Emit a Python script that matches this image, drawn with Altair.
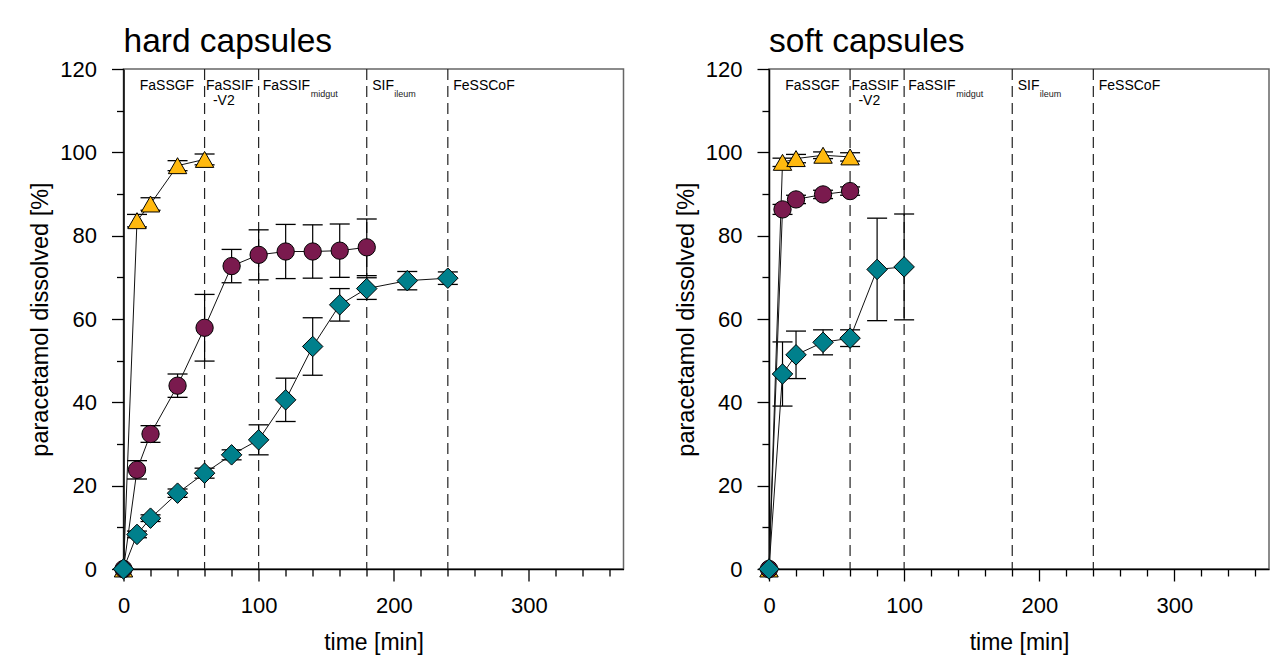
import altair as alt
import pandas as pd

FONT = "Liberation Sans"

# ---------------- data: hard capsules ----------------
hard_yellow_t = [0, 10, 20, 40, 60]
hard_yellow_v = [0, 83.6, 87.6, 96.8, 98.3]
hard_yellow_e = [0, 1.5, 1.5, 1.2, 1.3]

hard_purple_t = [0, 10, 20, 40, 60, 80, 100, 120, 140, 160, 180]
hard_purple_v = [0, 23.8, 32.4, 44.0, 57.9, 72.7, 75.4, 76.2, 76.2, 76.4, 77.2]
hard_purple_e = [0, 2.2, 2.0, 2.8, 8.0, 4.0, 6.0, 6.5, 6.4, 6.4, 6.8]

hard_teal_t = [0, 10, 20, 40, 60, 80, 100, 120, 140, 160, 180, 210, 240]
hard_teal_v = [0, 8.3, 12.2, 18.2, 23.0, 27.4, 31.0, 40.6, 53.4, 63.4, 67.3, 69.2, 69.8]
hard_teal_e = [0, 0.8, 0.8, 1.0, 1.2, 1.2, 3.6, 5.2, 6.9, 3.9, 2.6, 2.2, 1.5]

# ---------------- data: soft capsules ----------------
soft_yellow_t = [0, 10, 20, 40, 60]
soft_yellow_v = [0, 97.6, 98.5, 99.3, 98.9]
soft_yellow_e = [0, 1.0, 1.0, 0.8, 1.0]

soft_purple_t = [0, 10, 20, 40, 60]
soft_purple_v = [0, 86.3, 88.7, 89.9, 90.7]
soft_purple_e = [0, 1.2, 1.0, 1.0, 1.0]

soft_teal_t = [0, 10, 20, 40, 60, 80, 100]
soft_teal_v = [0, 46.8, 51.4, 54.4, 55.4, 71.9, 72.5]
soft_teal_e = [0, 7.7, 5.7, 3.0, 2.0, 12.3, 12.7]

# ---------------- phases ----------------
phase_bounds = [60, 100, 180, 240]
phase_names = ["FaSSGF", "FaSSIF", "FaSSIF", "SIF", "FeSSCoF"]
phase_label_x = [12, 61, 103, 184, 244]

x_ticks = list(range(0, 361, 20))
y_ticks = list(range(0, 121, 10))

YELLOW = "#FFB90F"
PURPLE = "#7A1A4E"
TEAL = "#00808C"


def X(field):
    return alt.X(
        f"{field}:Q",
        scale=alt.Scale(domain=[0, 370], nice=False, zero=False, padding=0),
        axis=alt.Axis(
            values=x_ticks,
            labelExpr="datum.value % 100 === 0 ? datum.label : ''",
            tickSize={"condition": {"test": "datum.value % 100 === 0", "value": 12}, "value": 7},
            title="time [min]",
            titleFontSize=23,
            titlePadding=15,
            labelFontSize=22,
            labelPadding=14,
            labelFlush=False,
            grid=False,
        ),
    )


def Y(field):
    return alt.Y(
        f"{field}:Q",
        scale=alt.Scale(domain=[0, 120], nice=False, padding=0),
        axis=alt.Axis(
            values=y_ticks,
            labelExpr="datum.value % 20 === 0 ? datum.label : ''",
            tickSize={"condition": {"test": "datum.value % 20 === 0", "value": 12}, "value": 7},
            title="paracetamol dissolved [%]",
            titleFontSize=23.5,
            titlePadding=7,
            labelFontSize=22,
            labelPadding=15,
            labelFlush=False,
            grid=False,
        ),
    )


def series_df(t, v, e):
    return pd.DataFrame({"t": t, "v": v, "lo": [a - b for a, b in zip(v, e)],
                         "hi": [a + b for a, b in zip(v, e)], "e": e})


def panel(title, series):
    layers = []
    rules = alt.Chart(pd.DataFrame({"t": phase_bounds})).mark_rule(
        color="#222", strokeWidth=1.2, strokeDash=[11, 6]
    ).encode(x=X("t"))
    layers.append(rules)

    labels_df = pd.DataFrame({"t": phase_label_x, "name": phase_names, "yy": [116] * 5})
    labels = alt.Chart(labels_df).mark_text(
        align="left", baseline="middle", fontSize=14, font=FONT, color="black"
    ).encode(x=X("t"), y=Y("yy"), text="name:N")
    layers.append(labels)
    v2 = alt.Chart(pd.DataFrame({"t": [phase_label_x[1]], "yy": [112.4], "name": ["-V2"]})).mark_text(
        align="left", baseline="middle", fontSize=14, font=FONT, color="black", dx=7
    ).encode(x=X("t"), y=Y("yy"), text="name:N")
    layers.append(v2)
    sub1 = alt.Chart(pd.DataFrame({"t": [phase_label_x[2]], "yy": [115], "name": ["midgut"]})).mark_text(
        align="left", baseline="middle", fontSize=9, font=FONT, color="#222", dx=48, dy=4
    ).encode(x=X("t"), y=Y("yy"), text="name:N")
    layers.append(sub1)
    sub2 = alt.Chart(pd.DataFrame({"t": [phase_label_x[3]], "yy": [115], "name": ["ileum"]})).mark_text(
        align="left", baseline="middle", fontSize=9, font=FONT, color="#222", dx=22, dy=4
    ).encode(x=X("t"), y=Y("yy"), text="name:N")
    layers.append(sub2)

    for df, shape, fill, size in series:
        d = df[df.e > 0]
        layers.append(alt.Chart(d).mark_rule(color="black", strokeWidth=1.2).encode(
            x=X("t"), y=Y("lo"), y2="hi:Q"))
        layers.append(alt.Chart(d).mark_tick(orient="horizontal", color="black", size=20,
                                             thickness=1.3, opacity=1).encode(x=X("t"), y=Y("lo")))
        layers.append(alt.Chart(d).mark_tick(orient="horizontal", color="black", size=20,
                                             thickness=1.3, opacity=1).encode(x=X("t"), y=Y("hi")))
    for df, shape, fill, size in series:
        layers.append(alt.Chart(df).mark_line(color="#111", strokeWidth=1).encode(
            x=X("t"), y=Y("v"), order="t:Q"))
    for df, shape, fill, size in series:
        layers.append(alt.Chart(df).mark_point(
            shape=shape, filled=True, fill=fill, stroke="black", strokeWidth=1,
            opacity=1, size=size).encode(x=X("t"), y=Y("v")))

    return alt.layer(*layers).properties(
        width=500, height=500,
        title=alt.TitleParams(title, anchor="start", frame="group", fontSize=33.5, font=FONT,
                              fontWeight="normal", color="black", offset=-1),
    )


hard = panel("hard capsules", [
    (series_df(hard_yellow_t, hard_yellow_v, hard_yellow_e), "triangle-up", YELLOW, 340),
    (series_df(hard_purple_t, hard_purple_v, hard_purple_e), "circle", PURPLE, 300),
    (series_df(hard_teal_t, hard_teal_v, hard_teal_e), "diamond", TEAL, 420),
])
soft = panel("soft capsules", [
    (series_df(soft_yellow_t, soft_yellow_v, soft_yellow_e), "triangle-up", YELLOW, 340),
    (series_df(soft_purple_t, soft_purple_v, soft_purple_e), "circle", PURPLE, 300),
    (series_df(soft_teal_t, soft_teal_v, soft_teal_e), "diamond", TEAL, 420),
])

chart = alt.hconcat(hard, soft, spacing=48.5).properties(
    padding={"left": 27.5, "top": 23, "right": 5, "bottom": 5},
    background="white",
).configure_view(
    stroke="#666", strokeWidth=1.5
).configure_axis(
    domainColor="black", domainWidth=1.5, tickColor="black", tickWidth=1.3,
    labelColor="black", titleColor="black", labelFont=FONT, titleFont=FONT,
    titleFontWeight="normal",
)

chart.save("out.html", embed_options={"renderer": "svg", "actions": False})
